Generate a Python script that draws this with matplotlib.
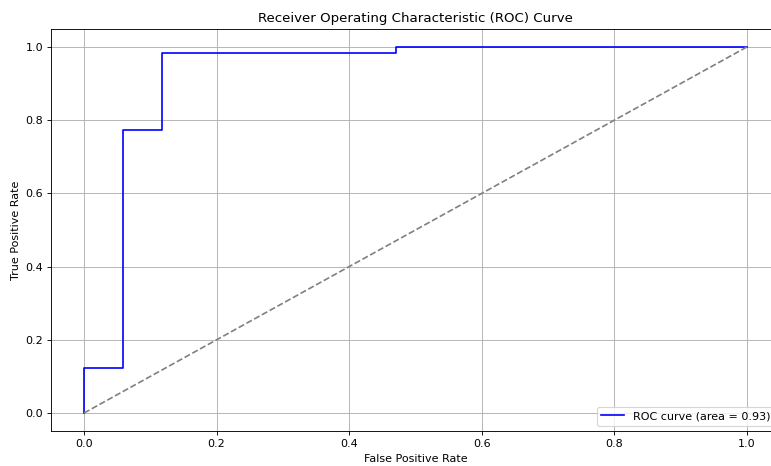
import matplotlib
matplotlib.use("Agg")
import matplotlib.pyplot as plt

fpr = [0.0, 0.0, 1/17, 1/17, 2/17, 2/17, 8/17, 8/17, 1.0]
tpr = [0.0, 7/57, 7/57, 44/57, 44/57, 56/57, 56/57, 1.0, 1.0]
roc_auc = 0.93
diag = [0, 1]

W, H, DPI = 771, 466, 80
fig = plt.figure(figsize=(W/DPI, H/DPI), dpi=DPI)
left, right, top, bottom = 50.9, 780.0, 28.7, 431.3
ax = fig.add_axes([left/W, 1 - bottom/H, (right - left)/W, (bottom - top)/H])
ax.plot(fpr, tpr, color='blue', lw=1.5, label=f'ROC curve (area = {roc_auc:.2f})')
ax.plot(diag, diag, color='gray', linestyle='--')
ax.set_xlabel('False Positive Rate')
ax.set_ylabel('True Positive Rate')
ax.set_title('Receiver Operating Characteristic (ROC) Curve')
ax.legend(loc='lower right')
ax.grid(True)
fig.savefig('out.png', dpi=DPI)
